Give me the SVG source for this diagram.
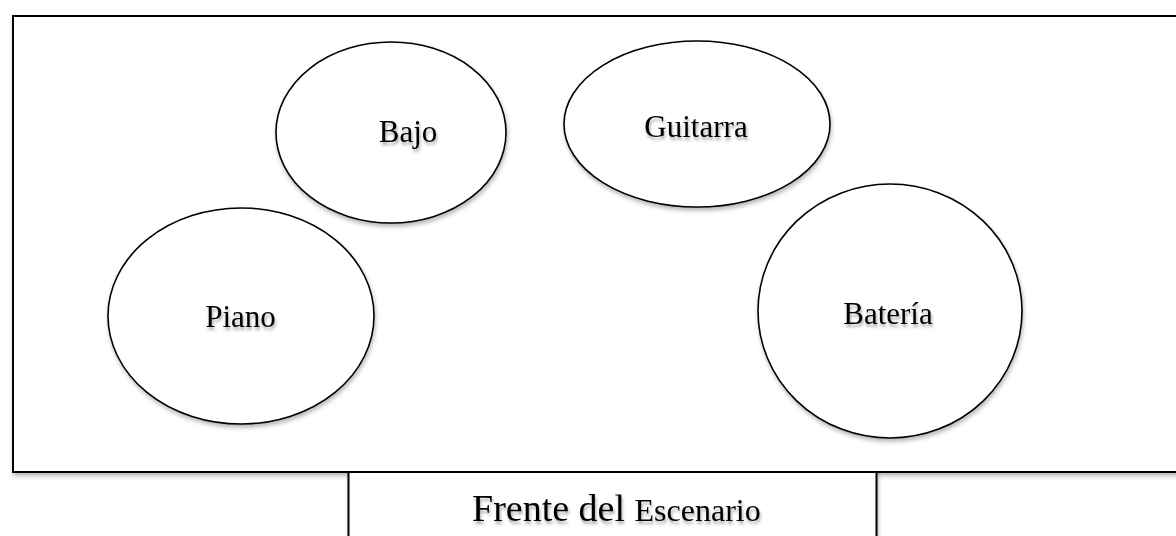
<svg xmlns="http://www.w3.org/2000/svg" width="1176" height="536" viewBox="0 0 1176 536">
<defs>
<filter id="sh" x="-10%" y="-10%" width="120%" height="130%">
<feDropShadow dx="1" dy="3" stdDeviation="2" flood-color="#000" flood-opacity="0.28"/>
</filter>
<filter id="tsh" x="-10%" y="-20%" width="120%" height="160%">
<feDropShadow dx="1" dy="3" stdDeviation="1.8" flood-color="#000" flood-opacity="0.35"/>
</filter>
</defs>
<style>
.box{fill:#fff;stroke:#000;stroke-width:2;filter:url(#sh)}
.ell{fill:#fff;stroke:#000;stroke-width:1.6;filter:url(#sh)}
.lbl{font-family:"Liberation Serif","Times New Roman",serif;font-size:31px;fill:#000;text-anchor:middle;filter:url(#tsh)}
</style>
<rect width="1176" height="536" fill="#fff"/>
<g id="stage">
<rect class="box" x="13" y="16" width="1175" height="456"/>
</g>
<g id="front">
<rect class="box" x="348.5" y="472" width="528" height="80"/>
<text x="472" y="521" style="font-family:'Liberation Serif','Times New Roman',serif;fill:#000;filter:url(#tsh)"><tspan font-size="38">Frente del </tspan><tspan font-size="32">Escenario</tspan></text>
</g>
<g id="bajo">
<ellipse class="ell" cx="391" cy="132.5" rx="115" ry="90.5"/>
<text class="lbl" x="408" y="142">Bajo</text>
</g>
<g id="guitarra">
<ellipse class="ell" cx="697" cy="124" rx="133" ry="83"/>
<text class="lbl" x="696" y="137">Guitarra</text>
</g>
<g id="piano">
<ellipse class="ell" cx="241" cy="316" rx="133" ry="108"/>
<text class="lbl" x="240.5" y="327">Piano</text>
</g>
<g id="bateria">
<ellipse class="ell" cx="890" cy="311" rx="132" ry="127"/>
<text class="lbl" x="888" y="324">Batería</text>
</g>
<g id="connectors"></g>
</svg>
